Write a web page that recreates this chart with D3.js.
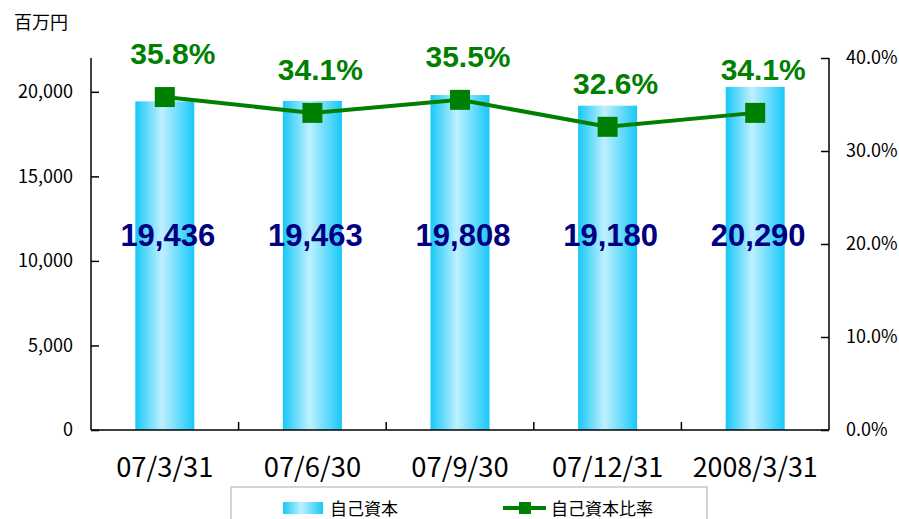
<!DOCTYPE html>
<html lang="ja">
  <head>
    <meta charset="UTF-8" />
    <title>自己資本</title>
    <style>
      body { margin: 0; background: #fff; }
    </style>
  </head>
  <body>
    <script src="https://d3js.org/d3.v7.min.js"></script>
    <script>
      const categories = ['07/3/31', '07/6/30', '07/9/30', '07/12/31', '2008/3/31']
      const equity = [19436, 19463, 19808, 19180, 20290]
      const ratio = [35.8, 34.1, 35.5, 32.6, 34.1]
      const leftTicks = [0, 5000, 10000, 15000, 20000]
      const rightTicks = [0, 10, 20, 30, 40]

      const width = 899
      const height = 519
      const padding = { top: 58, bottom: 89, left: 91, right: 70 }

      const svg = d3.select('body').append('svg')
        .attr('width', width).attr('height', height)
        .style('font-family', '"Noto Sans CJK JP", sans-serif')

      const defs = svg.append('defs')
      const grad = defs.append('linearGradient').attr('id', 'barGrad')
        .attr('x1', '0%').attr('x2', '100%').attr('y1', '0%').attr('y2', '0%')
      grad.append('stop').attr('offset', '0%').attr('stop-color', '#17c8f8')
      grad.append('stop').attr('offset', '45%').attr('stop-color', '#bff0ff')
      grad.append('stop').attr('offset', '100%').attr('stop-color', '#17c8f8')

      const x = d3.scaleBand()
        .domain(categories)
        .range([padding.left, width - padding.right])

      const y = d3.scaleLinear()
        .domain([0, 22000])
        .range([height - padding.bottom, padding.top])

      const y2 = d3.scaleLinear()
        .domain([0, 40])
        .range([height - padding.bottom, padding.top])

      const barW = 59

      // bars
      svg.selectAll('rect.bar')
        .data(equity)
        .enter()
        .append('rect')
        .attr('class', 'bar')
        .attr('fill', 'url(#barGrad)')
        .attr('x', (d, i) => x(categories[i]) + x.bandwidth() / 2 - barW / 2)
        .attr('y', d => y(d))
        .attr('width', barW)
        .attr('height', d => y(0) - y(d))

      // left axis
      const yAxis = g => g
        .attr('transform', `translate(${padding.left},0)`)
        .call(d3.axisRight(y).tickValues(leftTicks).tickSize(8).tickFormat(d3.format(',')))
        .call(g => g.select('.domain').attr('d', `M0,${padding.top}V${y(0)}`))
        .call(g => g.selectAll('text').attr('x', -18).attr('text-anchor', 'end')
          .style('font-size', '18px').attr('font-family', '"Noto Sans CJK JP", sans-serif'))

      // right axis
      const y2Axis = g => g
        .attr('transform', `translate(${width - padding.right},0)`)
        .call(d3.axisLeft(y2).tickValues(rightTicks).tickSize(8).tickFormat(d => d3.format('.1f')(d) + '%'))
        .call(g => g.select('.domain').attr('d', `M0,${padding.top}V${y2(0)}`))
        .call(g => g.selectAll('text').attr('x', 17).attr('text-anchor', 'start')
          .style('font-size', '18px').attr('font-family', '"Noto Sans CJK JP", sans-serif'))

      // bottom axis: ticks on band boundaries
      const bottom = svg.append('g')
      bottom.append('line')
        .attr('x1', padding.left).attr('x2', width - padding.right)
        .attr('y1', y(0)).attr('y2', y(0))
        .attr('stroke', '#000').attr('stroke-width', 1.5)
      bottom.selectAll('line.tick')
        .data(categories.slice(1))
        .enter()
        .append('line')
        .attr('x1', d => x(d)).attr('x2', d => x(d))
        .attr('y1', y(0)).attr('y2', y(0) - 8)
        .attr('stroke', '#000').attr('stroke-width', 1.5)
      bottom.selectAll('text')
        .data(categories)
        .enter()
        .append('text')
        .attr('x', d => x(d) + x.bandwidth() / 2)
        .attr('y', 477)
        .attr('text-anchor', 'middle')
        .attr('textLength', d => d.length * 13.9)
        .attr('lengthAdjust', 'spacingAndGlyphs')
        .style('font-size', '27px')
        .text(d => d)

      svg.append('g').call(yAxis)
      svg.append('g').call(y2Axis)
      svg.selectAll('.domain').attr('stroke', '#000').attr('stroke-width', 1.5)
      svg.selectAll('.tick line').attr('stroke', '#000').attr('stroke-width', 1.5)

      // value labels
      svg.selectAll('text.val')
        .data(equity)
        .enter()
        .append('text')
        .attr('class', 'val')
        .attr('x', (d, i) => x(categories[i]) + x.bandwidth() / 2 + 3)
        .attr('y', 246)
        .attr('text-anchor', 'middle')
        .attr('fill', '#000080')
        .style('font-family', '"Liberation Sans", Arial, sans-serif')
        .style('font-weight', 'bold')
        .style('font-size', '31px')
        .text(d => d3.format(',')(d))

      // ratio line
      const cx = (d, i) => x(categories[i]) + x.bandwidth() / 2
      const line = d3.line()
        .x((d, i) => cx(d, i))
        .y(d => y2(d))
      svg.append('path')
        .datum(ratio)
        .attr('fill', 'none')
        .attr('stroke', '#008000')
        .attr('stroke-width', 4)
        .attr('d', line)

      svg.selectAll('rect.mark')
        .data(ratio)
        .enter()
        .append('rect')
        .attr('class', 'mark')
        .attr('x', (d, i) => cx(d, i) - 10)
        .attr('y', d => y2(d) - 10)
        .attr('width', 20)
        .attr('height', 20)
        .attr('fill', '#008000')

      svg.selectAll('text.pct')
        .data(ratio)
        .enter()
        .append('text')
        .attr('class', 'pct')
        .attr('x', (d, i) => cx(d, i) + 8)
        .attr('y', (d, i) => y2(d) - 33)
        .attr('text-anchor', 'middle')
        .attr('fill', '#008000')
        .style('font-family', '"Liberation Sans", Arial, sans-serif')
        .style('font-weight', 'bold')
        .style('font-size', '30px')
        .text(d => d3.format('.1f')(d) + '%')

      // unit
      svg.append('text')
        .attr('x', 14).attr('y', 29)
        .style('font-size', '18px')
        .text('百万円')

      // legend
      const legend = svg.append('g')
      legend.append('rect')
        .attr('x', 231).attr('y', 487)
        .attr('width', 476).attr('height', 40)
        .attr('fill', '#fff').attr('stroke', '#c8c8c8').attr('stroke-width', 1.5)
      legend.append('rect')
        .attr('x', 283).attr('y', 502).attr('width', 40).attr('height', 12)
        .attr('fill', 'url(#barGrad)')
      legend.append('text')
        .attr('x', 330).attr('y', 515)
        .style('font-size', '17px')
        .text('自己資本')
      legend.append('line')
        .attr('x1', 503).attr('x2', 546).attr('y1', 508).attr('y2', 508)
        .attr('stroke', '#008000').attr('stroke-width', 4)
      legend.append('rect')
        .attr('x', 519).attr('y', 502).attr('width', 12).attr('height', 12)
        .attr('fill', '#008000')
      legend.append('text')
        .attr('x', 551).attr('y', 515)
        .style('font-size', '17px')
        .text('自己資本比率')
    </script>
  </body>
</html>
